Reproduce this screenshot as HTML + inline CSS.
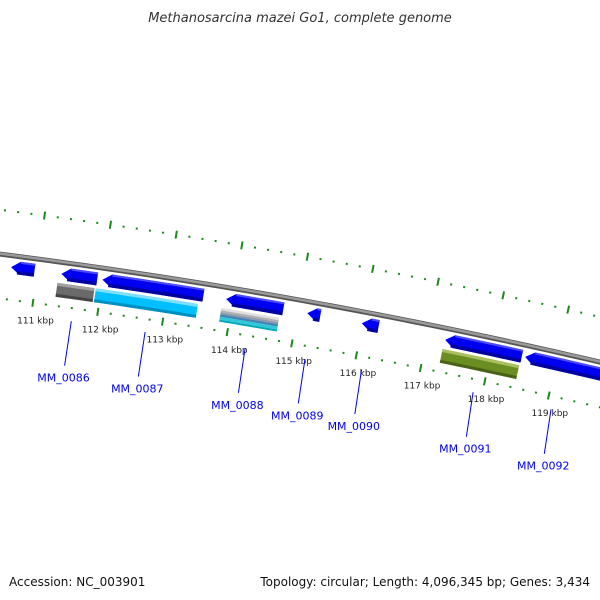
<!DOCTYPE html>
<html><head><meta charset="utf-8"><style>
html,body{margin:0;padding:0;background:#fff;}
svg{display:block;font-family:"DejaVu Sans","Liberation Sans",sans-serif;}
</style></head><body>
<svg id="c" width="600" height="600" viewBox="0 0 600 600">
<text x="300" y="22" text-anchor="middle" font-size="13" font-style="italic" fill="#333">Methanosarcina mazei Go1, complete genome</text>
<text x="9" y="586" font-size="12" fill="#111">Accession: NC_003901</text>
<text x="590" y="586" text-anchor="end" font-size="12" fill="#111">Topology: circular; Length: 4,096,345 bp; Genes: 3,434</text>
<g id="g"></g>
</svg>
<script>
// data (kbp)
const tickStart = 110;
const tickEnd = 121;
const tickLabelEnd = 119;
const row1Starts = [110.60, 111.37, 112.0, 113.90, 115.15, 115.99, 117.28, 118.52];
const row1Ends   = [110.96, 111.92, 113.55, 114.78, 115.35, 116.25, 118.47, 119.76];
const row2Starts = [111.33, 111.92, 113.85, 117.27];
const row2Ends   = [111.90, 113.49, 114.74, 118.46];
const row2Kinds  = ['grey', 'cyan', 'multi', 'olive'];
const geneLabels = ['MM_0086', 'MM_0087', 'MM_0088', 'MM_0089', 'MM_0090', 'MM_0091', 'MM_0092'];
const geneLabelPos = [111.62, 112.76, 114.31, 115.24, 116.12, 117.86, 119.08];

const NS = 'http://www.w3.org/2000/svg';
const CX = -744.5, CY = 6111, R0 = 5904;
function ang(p){ return 0.13305 + (p - 111) * 0.011185; }
function P(p, off){ const t = ang(p), r = R0 + off; return [CX + r*Math.sin(t), CY - r*Math.cos(t)]; }
const G = document.getElementById('g');
function mk(tag, attrs){ const e = document.createElementNS(NS, tag); for (const k in attrs) e.setAttribute(k, attrs[k]); G.appendChild(e); return e; }
function band(p1, p2, o1, o2, arrow){
  const pts = []; const n = 12;
  const hl = 9 / R0 / 0.011185;
  const s = arrow ? Math.min(p1 + hl, p2) : p1;
  for (let i=0;i<=n;i++){ pts.push(P(s + (p2-s)*i/n, o1)); }
  for (let i=n;i>=0;i--){ pts.push(P(s + (p2-s)*i/n, o2)); }
  if (arrow) pts.push(P(p1, (o1+o2)/2));
  return pts.map(q=>q[0].toFixed(2)+','+q[1].toFixed(2)).join(' ');
}
function arcPath(p1, p2, off){
  let d=''; const n=60;
  for (let i=0;i<=n;i++){ const q=P(p1+(p2-p1)*i/n, off); d += (i?'L':'M')+q[0].toFixed(2)+' '+q[1].toFixed(2); }
  return d;
}
let e;
e = mk('path', {d: arcPath(109, 122, 0), stroke:'#555', 'stroke-width':5, fill:'none'});


e = mk('path', {d: arcPath(109, 122, 0.5), stroke:'#9a9a9a', 'stroke-width':2.5, fill:'none'});


// ticks
for (let k = Math.round(tickStart*5); k <= tickEnd*5; k++){
  const p = k/5; const major = (k % 5 === 0);
  for (const base of [44, -44]){
    const a = P(p, base + (major?4:1)), b = P(p, base - (major?4:1));
    e = mk('line', {x1:a[0], y1:a[1], x2:b[0], y2:b[1], stroke:'#1a8a1a', 'stroke-width': 2});
    
    
  }
  if (major && p <= tickLabelEnd){
    const t = P(p, -62);
    e = mk('text', {x:t[0]+5, y:t[1]+3, 'text-anchor':'middle', 'font-size':9, fill:'#222'});
    e.textContent = p + ' kbp';
    
    
  }
}
// row1 genes
for (let i=0;i<row1Starts.length;i++){
  e = mk('polygon', {points: band(row1Starts[i], row1Ends[i], -5, -18, true), fill:'#0000f0'});
  
  
  e = mk('polygon', {points: band(row1Starts[i]+0.1, row1Ends[i], -14.5, -18, false), fill:'#0000a0'});
  
  
  e = mk('polygon', {points: band(row1Starts[i]+0.14, row1Ends[i], -5, -7, false), fill:'#4b4bff'});
  
  
}
// row2 features
const kindCols = {grey:['#a0a0a0','#6a6a6a','#444'], cyan:['#7fdfff','#00bfff','#0090c0'], olive:['#a8c060','#6b8e23','#4a6218']};
for (let i=0;i<row2Starts.length;i++){
  const s=row2Starts[i], en=row2Ends[i], kind=row2Kinds[i];
  if (kind === 'multi'){
    const cols = ['#e0e0e0','#b0b0b0','#8a9aaa','#4682b4','#30c8d8','#00a8b8'];
    const offs = [-21,-23.5,-25.5,-27.5,-30,-33,-35];
    for (let j=0;j<cols.length;j++){
      e = mk('polygon', {points: band(s, en, offs[j], offs[j+1], false), fill: cols[j]});
      
      
    }
  } else {
    const c = kindCols[kind];
    e = mk('polygon', {points: band(s, en, -21, -35, false), fill:c[1]});
    
    
    e = mk('polygon', {points: band(s, en, -21, -24, false), fill:c[0]});
    
    
    e = mk('polygon', {points: band(s, en, -32, -35, false), fill:c[2]});
    
    
  }
}
// gene labels
const tilt = 0.15;
for (let i=0;i<geneLabels.length;i++){
  const a = P(geneLabelPos[i], -57);
  const dx = -Math.sin(tilt), dy = Math.cos(tilt);
  const b = [a[0] + dx*45, a[1] + dy*45];
  const t = [a[0] + dx*52, a[1] + dy*52];
  e = mk('line', {x1:a[0], y1:a[1], x2:b[0], y2:b[1], stroke:'#0000ee', 'stroke-width':1});
  
  
  e = mk('text', {x:t[0], y:t[1]+9, 'text-anchor':'middle', 'font-size':11, fill:'#0000ee'});
  e.textContent = geneLabels[i];
  
  
}
</script>
</body></html>
